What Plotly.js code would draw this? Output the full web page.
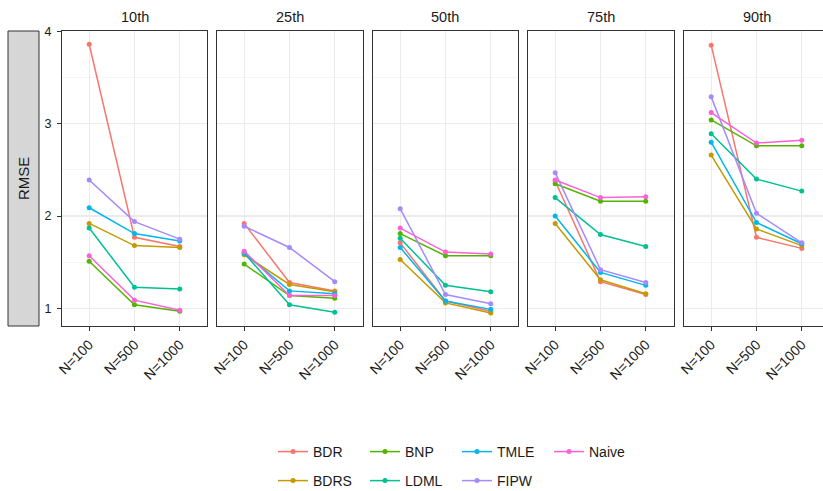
<!DOCTYPE html>
<html>
<head>
<meta charset="utf-8">
<script src="https://cdn.plot.ly/plotly-3.0.1.min.js"></script>
<style>html,body{margin:0;padding:0;background:#fff;}#chart{width:823px;height:491px;}</style>
</head>
<body>
<div id="chart"></div>
<script>
// Facet panels (quantiles) and sample sizes
const quantiles = ["10th", "25th", "50th", "75th", "90th"];
const sampleSizes = ["N=100", "N=500", "N=1000"];
const methods = ["BDR", "BDRS", "BNP", "LDML", "TMLE", "FIPW", "Naive"];
const colors = ["#F8766D", "#C49A00", "#53B400", "#00C094", "#00B6EB", "#A58AFF", "#FB61D7"];

// RMSE values: one row per quantile panel, values for N=100, N=500, N=1000
const BDR = [[3.86, 1.77, 1.67], [1.92, 1.28, 1.19], [1.71, 1.08, 0.97], [2.38, 1.29, 1.15], [3.85, 1.77, 1.65]];
const BDRS = [[1.92, 1.68, 1.66], [1.58, 1.26, 1.18], [1.53, 1.06, 0.95], [1.92, 1.31, 1.16], [2.66, 1.86, 1.68]];
const BNP = [[1.51, 1.04, 0.97], [1.48, 1.14, 1.11], [1.81, 1.57, 1.57], [2.35, 2.16, 2.16], [3.04, 2.76, 2.76]];
const LDML = [[1.87, 1.23, 1.21], [1.60, 1.04, 0.96], [1.76, 1.25, 1.18], [2.20, 1.80, 1.67], [2.89, 2.40, 2.27]];
const TMLE = [[2.09, 1.81, 1.73], [1.60, 1.19, 1.16], [1.66, 1.08, 0.99], [2.00, 1.39, 1.25], [2.80, 1.93, 1.70]];
const FIPW = [[2.39, 1.94, 1.75], [1.89, 1.66, 1.29], [2.08, 1.15, 1.05], [2.47, 1.42, 1.28], [3.29, 2.03, 1.71]];
const Naive = [[1.57, 1.09, 0.98], [1.62, 1.14, 1.14], [1.87, 1.61, 1.59], [2.39, 2.20, 2.21], [3.12, 2.79, 2.82]];
const seriesData = [BDR, BDRS, BNP, LDML, TMLE, FIPW, Naive];
const yTicks = [1, 2, 3, 4];

const W = 823, H = 491;
const FONT = "Liberation Sans, Arial, Helvetica, sans-serif";
// panel pixel extents
const panelLeft = [62, 217, 373, 528, 684];
const panelRight = [207, 363, 518, 674, 823];
const pxPerCat = 45.3;

const legendRow1 = ["BDR", "BNP", "TMLE", "Naive"];

const traces = [];
quantiles.forEach((q, p) => {
  methods.forEach((m, i) => {
    traces.push({
      type: "scatter",
      mode: "lines+markers",
      x: sampleSizes,
      y: seriesData[i][p],
      name: m,
      legendgroup: m,
      showlegend: p === 0,
      legend: legendRow1.includes(m) ? "legend" : "legend2",
      line: {color: colors[i], width: 1.5},
      marker: {color: colors[i], size: 5},
      xaxis: p === 0 ? "x" : "x" + (p + 1),
      yaxis: p === 0 ? "y" : "y" + (p + 1),
      hoverinfo: "x+y+name"
    });
  });
});

const legendCommon = {
  orientation: "h", xref: "container", yref: "container", xanchor: "left", yanchor: "top",
  font: {family: FONT, size: 14, color: "#1a1a1a"},
  entrywidth: 47, entrywidthmode: "pixels", traceorder: "normal",
  bgcolor: "rgba(0,0,0,0)", borderwidth: 0, itemwidth: 30
};

const layout = {
  width: W, height: H,
  margin: {l: 0, r: 0, t: 31, b: 165, autoexpand: false},
  paper_bgcolor: "#ffffff",
  plot_bgcolor: "#ffffff",
  font: {family: FONT, size: 12, color: "#333333"},
  showlegend: true,
  legend: Object.assign({}, legendCommon, {x: 273 / W, y: (H - 436) / H}),
  legend2: Object.assign({}, legendCommon, {x: 273 / W, y: (H - 465) / H}),
  shapes: [{
    type: "rect", xref: "paper", yref: "paper",
    x0: 8 / W, x1: 39 / W, y0: 0, y1: 1,
    fillcolor: "#d6d6d6", line: {color: "#333333", width: 1}
  }],
  annotations: [{
    text: "RMSE", xref: "paper", yref: "paper", x: 23.5 / W, y: 0.5,
    textangle: -90, showarrow: false, xanchor: "center", yanchor: "middle",
    font: {family: FONT, size: 15, color: "#1a1a1a"}
  }]
};

quantiles.forEach((q, p) => {
  const xa = p === 0 ? "xaxis" : "xaxis" + (p + 1);
  const ya = p === 0 ? "yaxis" : "yaxis" + (p + 1);
  const widthPx = panelRight[p] - panelLeft[p];
  layout[xa] = {
    domain: [panelLeft[p] / W, panelRight[p] / W],
    anchor: p === 0 ? "y" : "y" + (p + 1),
    type: "category",
    categoryorder: "array", categoryarray: sampleSizes,
    range: [-0.6, -0.6 + widthPx / pxPerCat],
    showgrid: true, gridcolor: "#ebebeb", gridwidth: 1.2,
    showline: true, mirror: true, linecolor: "#333333", linewidth: 1,
    ticks: "outside", ticklen: 4, tickcolor: "#333333", tickwidth: 1,
    tickangle: -45,
    tickfont: {family: FONT, size: 14, color: "#1a1a1a"},
    zeroline: false, fixedrange: true, automargin: false
  };
  layout[ya] = {
    domain: [0, 1],
    anchor: p === 0 ? "x" : "x" + (p + 1),
    range: [0.81, 4.003],
    tickvals: yTicks,
    showgrid: true, gridcolor: "#ebebeb", gridwidth: 1.2,
    minor: {dtick: 0.5, tick0: 0, showgrid: true, gridcolor: "#f3f3f3", gridwidth: 0.8, ticks: ""},
    showline: true, mirror: true, linecolor: "#333333", linewidth: 1,
    ticks: p === 0 ? "outside" : "", ticklen: 4, tickcolor: "#333333",
    showticklabels: p === 0,
    ticklabelstandoff: 3,
    tickfont: {family: FONT, size: 12.5, color: "#1a1a1a"},
    zeroline: false, fixedrange: true, automargin: false
  };
  layout.annotations.push({
    text: q, xref: "paper", yref: "paper",
    x: ((panelLeft[p] + (p === 4 ? 829 : panelRight[p])) / 2) / W, y: 1,
    yshift: 14, showarrow: false, xanchor: "center", yanchor: "middle",
    font: {family: FONT, size: 14.5, color: "#1a1a1a"}
  });
});

Plotly.newPlot("chart", traces, layout, {displayModeBar: false, staticPlot: true});
</script>
</body>
</html>
